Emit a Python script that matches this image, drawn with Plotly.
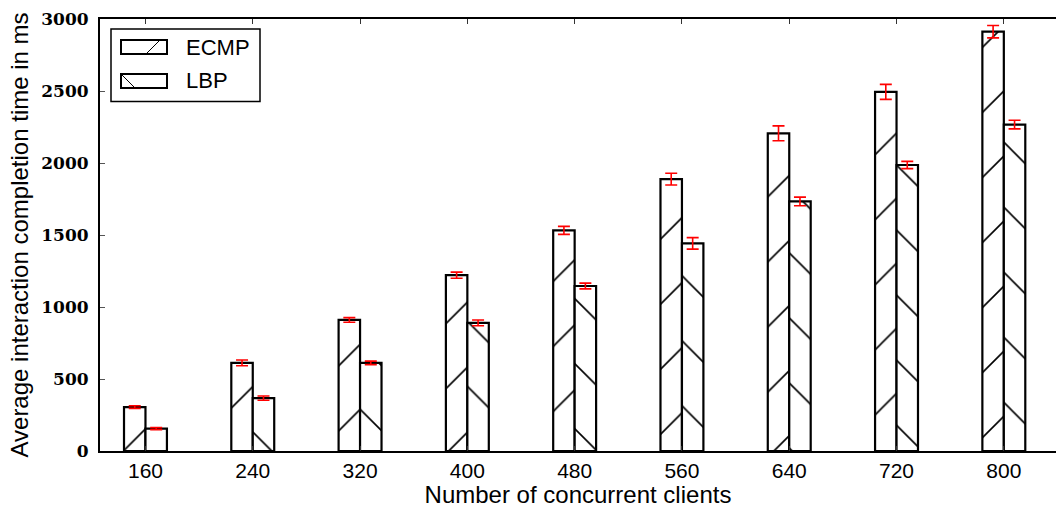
import plotly.graph_objects as go

# Number of concurrent clients (x categories)
clients = [160, 240, 320, 400, 480, 560, 640, 720, 800]

# Average interaction completion time (ms) and error half-widths
ecmp_mean = [305, 612, 910, 1221, 1532, 1888, 2206, 2494, 2912]
ecmp_err = [9, 20, 16, 21, 28, 41, 52, 52, 43]
lbp_mean = [155, 367, 612, 890, 1146, 1442, 1733, 1986, 2267]
lbp_err = [7, 15, 12, 20, 20, 40, 30, 25, 30]

series_names = ["ECMP", "LBP"]
y_ticks = [0, 500, 1000, 1500, 2000, 2500, 3000]

W, H = 1056, 508
ML, MR, MT, MB = 100, 0, 19, 57
PW, PH = W - ML - MR, H - MT - MB

SANS = "Liberation Sans, Arial, sans-serif"


def px(x):
    return (x - ML) / PW


def py(y):
    return (H - MB - y) / PH


fig = go.Figure()

for name, mean, err, shape in [
    (series_names[0], ecmp_mean, ecmp_err, "/"),
    (series_names[1], lbp_mean, lbp_err, "\\"),
]:
    fig.add_trace(
        go.Bar(
            x=clients,
            y=mean,
            name=name,
            marker=dict(
                color="white",
                line=dict(color="black", width=2.2),
                pattern=dict(
                    shape=shape,
                    size=46,
                    solidity=0.035,
                    fgcolor="black",
                    fgopacity=1,
                    bgcolor="white",
                    fillmode="overlay",
                ),
            ),
            error_y=dict(
                type="data",
                array=err,
                color="red",
                thickness=1.6,
                width=6,
            ),
            showlegend=False,
        )
    )

# Hand-drawn legend box with hatched swatches
shapes = [
    dict(type="rect", xref="paper", yref="paper",
         x0=px(111), x1=px(260), y0=py(29), y1=py(101.5),
         line=dict(color="black", width=1.5), fillcolor="white", layer="above"),
]
swatches = [(40, 54), (74, 88)]
for (top, bot) in swatches:
    shapes.append(dict(type="rect", xref="paper", yref="paper",
                       x0=px(121), x1=px(167), y0=py(top), y1=py(bot),
                       line=dict(color="black", width=2), fillcolor="white",
                       layer="above"))
# diagonal hatch stroke inside each swatch
shapes.append(dict(type="line", xref="paper", yref="paper",
                   x0=px(146), y0=py(54), x1=px(160), y1=py(40),
                   line=dict(color="black", width=1), layer="above"))
shapes.append(dict(type="line", xref="paper", yref="paper",
                   x0=px(121), y0=py(74), x1=px(135), y1=py(88),
                   line=dict(color="black", width=1), layer="above"))

annotations = []
for name, cy in zip(series_names, [47.5, 81]):
    annotations.append(dict(
        xref="paper", yref="paper", x=px(184), y=py(cy),
        xanchor="left", yanchor="middle", text=name, showarrow=False,
        font=dict(family=SANS, size=22, color="black"),
    ))

fig.update_layout(
    width=W,
    height=H,
    margin=dict(l=ML, r=MR, t=MT, b=MB),
    paper_bgcolor="white",
    plot_bgcolor="white",
    barmode="group",
    bargap=0.6,
    bargroupgap=0,
    shapes=shapes,
    annotations=annotations,
    font=dict(family=SANS, color="black"),
)

fig.update_xaxes(
    range=[126.1, 838.9],
    tickvals=clients,
    ticktext=[str(c) for c in clients],
    ticks="inside",
    ticklen=5,
    tickwidth=1,
    tickcolor="#333",
    showline=True,
    linecolor="black",
    linewidth=2,
    mirror="ticks",
    showgrid=False,
    zeroline=False,
    tickfont=dict(family=SANS, size=21, color="black"),
    ticklabelstandoff=0,
    title=dict(text="Number of concurrent clients",
               font=dict(family=SANS, size=24, color="black"),
               standoff=2),
)

fig.update_yaxes(
    range=[0, 3000],
    tickvals=y_ticks,
    ticks="inside",
    ticklen=5,
    tickwidth=1,
    tickcolor="#555",
    showline=True,
    linecolor="black",
    linewidth=2,
    showgrid=False,
    zeroline=False,
    tickfont=dict(family="DejaVu Serif, serif", size=17, color="black", weight="bold"),
    ticklabelstandoff=6,
    title=dict(text="Average interaction completion time in ms",
               font=dict(family=SANS, size=24, color="black"),
               standoff=6),
)

fig.write_html("out.html")
